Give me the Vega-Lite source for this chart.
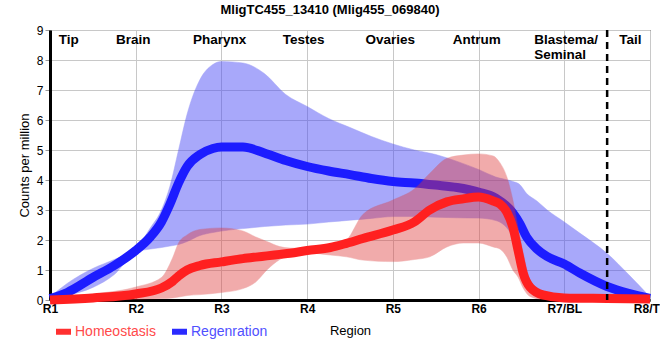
{
  "$schema": "https://vega.github.io/schema/vega-lite/v6.json",
  "autosize": {"type": "none"},
  "width": 600,
  "height": 270,
  "padding": {"left": 50, "top": 30, "right": 10, "bottom": 60},
  "background": "white",
  "title": {"text": "MligTC455_13410 (Mlig455_069840)", "font": "Liberation Sans", "fontSize": 13, "fontWeight": "bold", "color": "black", "anchor": "middle", "frame": "group", "dx": -20, "offset": 7},
  "config": {
    "view": {"stroke": "black", "strokeWidth": 1},
    "axis": {"gridColor": "#c8c8c8", "gridWidth": 1, "gridOpacity": 1, "domainColor": "black", "domainWidth": 3, "ticks": false, "labelColor": "black", "titleColor": "black", "labelFont": "Liberation Sans", "titleFont": "Liberation Sans", "titleFontWeight": "normal", "titleFontSize": 13, "labelFlush": false, "labelOverlap": false},
    "legend": {"labelFont": "Liberation Sans", "labelFontSize": 14}
  },
  "datasets": {
    "curves": [
      {"series": "Regenration", "x": 1.0, "mean": 0.05, "lo": 0.0, "hi": 0.1},
      {"series": "Regenration", "x": 1.2, "mean": 0.25, "lo": 0.15, "hi": 0.55},
      {"series": "Regenration", "x": 1.5, "mean": 0.75, "lo": 0.42, "hi": 1.05},
      {"series": "Regenration", "x": 1.75, "mean": 1.15, "lo": 0.85, "hi": 1.35},
      {"series": "Regenration", "x": 2.0, "mean": 1.65, "lo": 1.6, "hi": 1.7},
      {"series": "Regenration", "x": 2.17, "mean": 2.1, "lo": 1.7, "hi": 2.4},
      {"series": "Regenration", "x": 2.3, "mean": 2.6, "lo": 1.75, "hi": 3.0},
      {"series": "Regenration", "x": 2.4, "mean": 3.2, "lo": 1.8, "hi": 3.8},
      {"series": "Regenration", "x": 2.5, "mean": 3.9, "lo": 1.85, "hi": 5.0},
      {"series": "Regenration", "x": 2.6, "mean": 4.45, "lo": 1.95, "hi": 6.2},
      {"series": "Regenration", "x": 2.75, "mean": 4.85, "lo": 2.15, "hi": 7.35},
      {"series": "Regenration", "x": 2.9, "mean": 5.05, "lo": 2.25, "hi": 7.85},
      {"series": "Regenration", "x": 3.0, "mean": 5.1, "lo": 2.3, "hi": 7.95},
      {"series": "Regenration", "x": 3.25, "mean": 5.1, "lo": 2.38, "hi": 7.9},
      {"series": "Regenration", "x": 3.5, "mean": 4.9, "lo": 2.45, "hi": 7.55},
      {"series": "Regenration", "x": 3.75, "mean": 4.65, "lo": 2.5, "hi": 6.85},
      {"series": "Regenration", "x": 4.0, "mean": 4.45, "lo": 2.53, "hi": 6.45},
      {"series": "Regenration", "x": 4.25, "mean": 4.3, "lo": 2.6, "hi": 6.05},
      {"series": "Regenration", "x": 4.5, "mean": 4.18, "lo": 2.66, "hi": 5.75},
      {"series": "Regenration", "x": 4.75, "mean": 4.05, "lo": 2.72, "hi": 5.45},
      {"series": "Regenration", "x": 5.0, "mean": 3.95, "lo": 2.78, "hi": 5.2},
      {"series": "Regenration", "x": 5.25, "mean": 3.9, "lo": 2.78, "hi": 5.0},
      {"series": "Regenration", "x": 5.5, "mean": 3.83, "lo": 2.76, "hi": 4.85},
      {"series": "Regenration", "x": 5.75, "mean": 3.75, "lo": 2.74, "hi": 4.62},
      {"series": "Regenration", "x": 6.0, "mean": 3.6, "lo": 2.73, "hi": 4.35},
      {"series": "Regenration", "x": 6.2, "mean": 3.4, "lo": 2.65, "hi": 4.1},
      {"series": "Regenration", "x": 6.4, "mean": 2.9, "lo": 2.1, "hi": 3.95},
      {"series": "Regenration", "x": 6.48, "mean": 2.55, "lo": 1.33, "hi": 3.85},
      {"series": "Regenration", "x": 6.56, "mean": 2.1, "lo": 0.67, "hi": 3.55},
      {"series": "Regenration", "x": 6.68, "mean": 1.7, "lo": 0.1, "hi": 3.3},
      {"series": "Regenration", "x": 6.8, "mean": 1.45, "lo": 0.03, "hi": 3.0},
      {"series": "Regenration", "x": 7.0, "mean": 1.2, "lo": 0.02, "hi": 2.6},
      {"series": "Regenration", "x": 7.18, "mean": 0.9, "lo": 0.02, "hi": 2.23},
      {"series": "Regenration", "x": 7.5, "mean": 0.45, "lo": 0.02, "hi": 1.55},
      {"series": "Regenration", "x": 7.75, "mean": 0.22, "lo": 0.02, "hi": 0.85},
      {"series": "Regenration", "x": 8.0, "mean": 0.05, "lo": 0.0, "hi": 0.1},
      {"series": "Homeostasis", "x": 1.0, "mean": 0.0, "lo": 0.0, "hi": 0.05},
      {"series": "Homeostasis", "x": 1.5, "mean": 0.07, "lo": 0.0, "hi": 0.2},
      {"series": "Homeostasis", "x": 2.0, "mean": 0.2, "lo": 0.02, "hi": 0.43},
      {"series": "Homeostasis", "x": 2.3, "mean": 0.4, "lo": 0.05, "hi": 0.75},
      {"series": "Homeostasis", "x": 2.43, "mean": 0.62, "lo": 0.07, "hi": 1.4},
      {"series": "Homeostasis", "x": 2.5, "mean": 0.8, "lo": 0.1, "hi": 1.9},
      {"series": "Homeostasis", "x": 2.6, "mean": 1.0, "lo": 0.15, "hi": 2.17},
      {"series": "Homeostasis", "x": 2.75, "mean": 1.15, "lo": 0.18, "hi": 2.35},
      {"series": "Homeostasis", "x": 3.0, "mean": 1.27, "lo": 0.25, "hi": 2.4},
      {"series": "Homeostasis", "x": 3.25, "mean": 1.38, "lo": 0.38, "hi": 2.3},
      {"series": "Homeostasis", "x": 3.4, "mean": 1.43, "lo": 0.6, "hi": 2.1},
      {"series": "Homeostasis", "x": 3.53, "mean": 1.47, "lo": 1.0, "hi": 1.95},
      {"series": "Homeostasis", "x": 3.68, "mean": 1.52, "lo": 1.35, "hi": 1.78},
      {"series": "Homeostasis", "x": 3.8, "mean": 1.56, "lo": 1.5, "hi": 1.73},
      {"series": "Homeostasis", "x": 4.0, "mean": 1.65, "lo": 1.57, "hi": 1.72},
      {"series": "Homeostasis", "x": 4.27, "mean": 1.75, "lo": 1.5, "hi": 1.78},
      {"series": "Homeostasis", "x": 4.46, "mean": 1.89, "lo": 1.44, "hi": 2.0},
      {"series": "Homeostasis", "x": 4.65, "mean": 2.05, "lo": 1.33, "hi": 2.85},
      {"series": "Homeostasis", "x": 5.0, "mean": 2.33, "lo": 1.28, "hi": 3.33},
      {"series": "Homeostasis", "x": 5.25, "mean": 2.6, "lo": 1.35, "hi": 3.7},
      {"series": "Homeostasis", "x": 5.43, "mean": 3.0, "lo": 1.44, "hi": 4.22},
      {"series": "Homeostasis", "x": 5.63, "mean": 3.27, "lo": 1.77, "hi": 4.72},
      {"series": "Homeostasis", "x": 5.82, "mean": 3.37, "lo": 1.9, "hi": 4.83},
      {"series": "Homeostasis", "x": 6.0, "mean": 3.43, "lo": 1.9, "hi": 4.87},
      {"series": "Homeostasis", "x": 6.17, "mean": 3.3, "lo": 1.77, "hi": 4.8},
      {"series": "Homeostasis", "x": 6.25, "mean": 3.2, "lo": 1.7, "hi": 4.57},
      {"series": "Homeostasis", "x": 6.33, "mean": 2.93, "lo": 1.43, "hi": 4.1},
      {"series": "Homeostasis", "x": 6.4, "mean": 2.43, "lo": 1.0, "hi": 3.33},
      {"series": "Homeostasis", "x": 6.46, "mean": 1.67, "lo": 0.77, "hi": 2.43},
      {"series": "Homeostasis", "x": 6.52, "mean": 0.9, "lo": 0.4, "hi": 1.57},
      {"series": "Homeostasis", "x": 6.6, "mean": 0.43, "lo": 0.12, "hi": 0.67},
      {"series": "Homeostasis", "x": 6.75, "mean": 0.17, "lo": 0.02, "hi": 0.3},
      {"series": "Homeostasis", "x": 7.0, "mean": 0.07, "lo": 0.0, "hi": 0.1},
      {"series": "Homeostasis", "x": 7.5, "mean": 0.05, "lo": 0.0, "hi": 0.08},
      {"series": "Homeostasis", "x": 8.0, "mean": 0.03, "lo": 0.0, "hi": 0.07}
    ],
    "regions": [
      {"label": "Tip", "x": 1.22},
      {"label": "Brain", "x": 1.97},
      {"label": "Pharynx", "x": 2.98},
      {"label": "Testes", "x": 3.96},
      {"label": "Ovaries", "x": 4.97},
      {"label": "Antrum", "x": 5.98},
      {"label": "Tail", "x": 7.77}
    ],
    "regions2": [
      {"label": "Blastema/\nSeminal", "x": 6.65}
    ],
    "divider": [{"x": 7.5}]
  },
  "layer": [
    {
      "data": {"name": "curves"},
      "transform": [{"filter": "datum.series === 'Regenration'"}],
      "mark": {"type": "area", "interpolate": "monotone", "color": "#4b4bf5", "opacity": 0.48, "stroke": "#3c3cf0", "strokeWidth": 1, "strokeOpacity": 0.5},
      "encoding": {
        "x": {"field": "x", "type": "quantitative", "scale": {"domain": [1, 8], "nice": false, "zero": false},
          "axis": {"values": [1, 2, 3, 4, 5, 6, 7, 8], "labelExpr": "['R1','R2','R3','R4','R5','R6','R7/BL','R8/TL'][datum.value-1]", "labelFontWeight": "bold", "labelFontSize": 12, "labelPadding": 3, "title": "Region", "titleX": 300, "titleY": 30, "titleBaseline": "middle", "titleFontSize": 13}},
        "y": {"field": "lo", "type": "quantitative", "scale": {"domain": [0, 9], "nice": false},
          "axis": {"values": [0, 1, 2, 3, 4, 5, 6, 7, 8, 9], "tickCount": 10, "ticks": true, "tickColor": "#999999", "tickSize": 5, "labelFontSize": 12, "labelPadding": 2, "title": "Counts per million", "titlePadding": 5, "titleFontSize": 13}},
        "y2": {"field": "hi"}
      }
    },
    {
      "data": {"name": "curves"},
      "transform": [{"filter": "datum.series === 'Regenration'"}],
      "mark": {"type": "line", "interpolate": "monotone", "strokeWidth": 9},
      "encoding": {
        "x": {"field": "x", "type": "quantitative"},
        "y": {"field": "mean", "type": "quantitative", "axis": {"values": [0, 1, 2, 3, 4, 5, 6, 7, 8, 9], "tickCount": 10, "title": "Counts per million"}},
        "color": {"field": "series", "type": "nominal", "scale": {"domain": ["Homeostasis", "Regenration"], "range": ["#ff2020", "#1c1cff"]},
          "legend": {"title": null, "orient": "none", "direction": "horizontal", "legendX": 6, "legendY": 294, "symbolType": "M-1,-0.4H1V0.4H-1Z", "symbolSize": 225, "symbolStrokeWidth": 0, "labelFont": "Liberation Sans", "labelFontSize": 14, "columnPadding": 16, "labelOffset": 4,
            "encode": {
              "symbols": {"update": {"fill": {"signal": "datum.value === 'Homeostasis' ? '#ff3030' : '#2a2aff'"}, "fillOpacity": {"value": 1}, "strokeWidth": {"value": 0}}},
              "labels": {"update": {"fill": {"signal": "datum.value === 'Homeostasis' ? '#ff4a4a' : '#5050ff'"}}}}}}
      }
    },
    {
      "data": {"name": "curves"},
      "transform": [{"filter": "datum.series === 'Homeostasis'"}],
      "mark": {"type": "area", "interpolate": "monotone", "color": "#e03a3a", "opacity": 0.42, "stroke": "#d83030", "strokeWidth": 1, "strokeOpacity": 0.5},
      "encoding": {
        "x": {"field": "x", "type": "quantitative"},
        "y": {"field": "lo", "type": "quantitative", "axis": {"values": [0, 1, 2, 3, 4, 5, 6, 7, 8, 9], "tickCount": 10, "title": "Counts per million"}},
        "y2": {"field": "hi"}
      }
    },
    {
      "data": {"name": "curves"},
      "transform": [{"filter": "datum.series === 'Homeostasis'"}],
      "mark": {"type": "line", "interpolate": "monotone", "strokeWidth": 9},
      "encoding": {
        "x": {"field": "x", "type": "quantitative"},
        "y": {"field": "mean", "type": "quantitative", "axis": {"values": [0, 1, 2, 3, 4, 5, 6, 7, 8, 9], "tickCount": 10, "title": "Counts per million"}},
        "color": {"field": "series", "type": "nominal"}
      }
    },
    {
      "data": {"name": "divider"},
      "mark": {"type": "rule", "color": "black", "strokeWidth": 2.5, "strokeDash": [7, 5]},
      "encoding": {"x": {"field": "x", "type": "quantitative"}}
    },
    {
      "data": {"name": "regions"},
      "mark": {"type": "text", "font": "Liberation Sans", "fontSize": 13.5, "fontWeight": "bold", "color": "black", "baseline": "top", "align": "center", "dy": 3},
      "encoding": {
        "x": {"field": "x", "type": "quantitative"},
        "y": {"datum": 9, "type": "quantitative", "axis": {"values": [0, 1, 2, 3, 4, 5, 6, 7, 8, 9], "tickCount": 10, "title": "Counts per million"}},
        "text": {"field": "label"}
      }
    },
    {
      "data": {"name": "regions2"},
      "mark": {"type": "text", "font": "Liberation Sans", "fontSize": 13.5, "fontWeight": "bold", "color": "black", "baseline": "top", "align": "left", "dy": 3, "lineBreak": "\n", "lineHeight": 15},
      "encoding": {
        "x": {"field": "x", "type": "quantitative"},
        "y": {"datum": 9, "type": "quantitative"},
        "text": {"field": "label"}
      }
    }
  ]
}
